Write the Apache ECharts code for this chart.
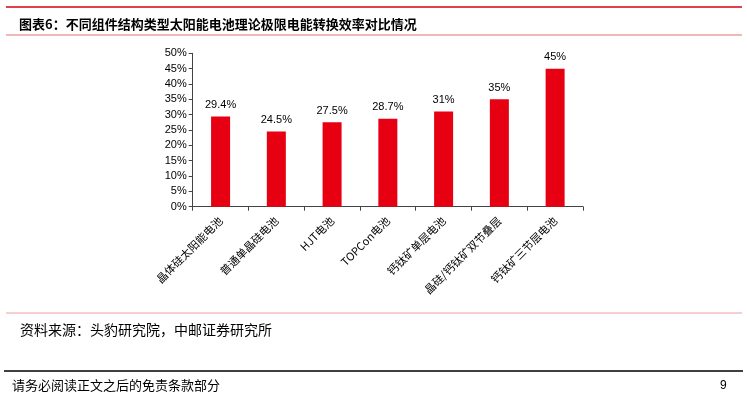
<!DOCTYPE html>
<html><head><meta charset="utf-8">
<script src="https://cdn.jsdelivr.net/npm/echarts@6/dist/echarts.min.js"></script>
<style>html,body{margin:0;padding:0;background:#fff}#c{width:747px;height:401px}</style>
</head><body><div id="c"></div>
<script>
const categories = ['晶体硅太阳能电池','普通单晶硅电池','HJT电池','TOPCon电池','钙钛矿单层电池','晶硅/钙钛矿双节叠层','钙钛矿三节层电池'];
const values = [29.4, 24.5, 27.5, 28.7, 31, 35, 45];
const valueLabels = ['29.4%','24.5%','27.5%','28.7%','31%','35%','45%'];
const yTicks = [0,5,10,15,20,25,30,35,40,45,50];

const chart = echarts.init(document.getElementById('c'), null, {renderer:'canvas'});
chart.setOption({
  backgroundColor:'#fff',
  animation:false,
  title:[
    {text:'图表6：不同组件结构类型太阳能电池理论极限电能转换效率对比情况', left:14, top:13,
     textStyle:{fontFamily:'Noto Sans CJK SC', fontSize:13, fontWeight:'bold', color:'#000'}},
    {text:'资料来源：头豹研究院，中邮证券研究所', left:15, top:318,
     textStyle:{fontFamily:'Noto Sans CJK SC', fontSize:14, fontWeight:'normal', color:'#000'}},
    {text:'请务必阅读正文之后的免责条款部分', left:7, top:374,
     textStyle:{fontFamily:'Noto Sans CJK SC', fontSize:13, fontWeight:'normal', color:'#000'}},
    {text:'9', left:715, top:375,
     textStyle:{fontFamily:'Liberation Sans', fontSize:12, fontWeight:'normal', color:'#000'}}
  ],
  graphic:[
    {type:'line', shape:{x1:6,y1:7,x2:742,y2:7}, style:{stroke:'#d7000f', lineWidth:1.5}},
    {type:'line', shape:{x1:6,y1:35,x2:742,y2:35}, style:{stroke:'#e07070', lineWidth:1}},
    {type:'line', shape:{x1:6,y1:313,x2:742,y2:313}, style:{stroke:'#eaa0a0', lineWidth:1}},
    {type:'line', shape:{x1:4,y1:371,x2:743,y2:371}, style:{stroke:'#000', lineWidth:1.5}}
  ],
  grid:{left:192.7, right:164, top:53.3, bottom:194.3, containLabel:false},
  xAxis:{
    type:'category', data:categories,
    axisLine:{lineStyle:{color:'#444', width:1}},
    axisTick:{show:true, alignWithLabel:false, length:4, lineStyle:{color:'#444'}},
    axisLabel:{rotate:45, interval:0, fontFamily:'Noto Sans CJK SC', fontSize:11, color:'#000', margin:12}
  },
  yAxis:{
    type:'value', min:0, max:50, interval:5,
    axisLine:{show:true, lineStyle:{color:'#444'}},
    axisTick:{show:true, length:4, lineStyle:{color:'#444'}},
    splitLine:{show:false},
    axisLabel:{formatter:v=>yTicks.includes(v)?v+'%':'', fontFamily:'Liberation Sans', fontSize:11, color:'#000', margin:6}
  },
  series:[{
    type:'bar', data:values, barWidth:19,
    itemStyle:{color:'#e60012'},
    label:{show:true, position:'top', distance:6, formatter:p=>valueLabels[p.dataIndex],
      fontFamily:'Liberation Sans', fontSize:11, color:'#000'}
  }]
});
</script></body></html>
